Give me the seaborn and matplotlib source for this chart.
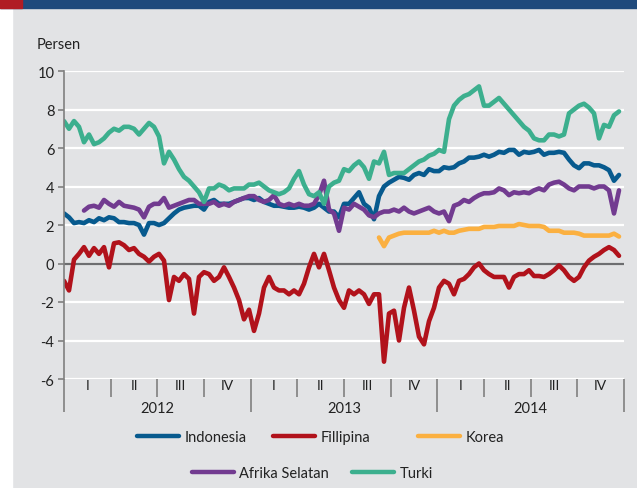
import numpy as np
import pandas as pd
import matplotlib.pyplot as plt
import matplotlib.transforms as mtransforms
from matplotlib.patches import Rectangle
from matplotlib.lines import Line2D
import seaborn as sns

nan = np.nan

# sampling grid, months since Jan 2012 (about every 10 days)
months = np.arange(112) * 36 / 112

indonesia = [2.6, 2.4, 2.1, 2.15, 2.1, 2.25, 2.15, 2.35, 2.25, 2.4,
             2.35, 2.15, 2.15, 2.1, 2.1, 2.0, 1.5, 2.1, 2.1, 2.0,
             2.1, 2.35, 2.6, 2.8, 2.9, 2.95, 3.0, 3.0, 2.8, 3.2,
             3.3, 3.1, 3.1, 3.1, 3.2, 3.3, 3.4, 3.4, 3.3, 3.4,
             3.2, 3.1, 3.0, 3.0, 2.95, 2.9, 2.9, 2.95, 2.9, 2.8,
             2.9, 3.1, 2.9, 2.7, 2.7, 2.4, 3.1, 3.1, 3.4, 3.7,
             3.1, 2.9, 2.3, 3.5, 4.0, 4.2, 4.35, 4.5, 4.45, 4.35,
             4.6, 4.7, 4.6, 4.9, 4.8, 4.8, 5.0, 4.95, 5.0, 5.2,
             5.3, 5.5, 5.5, 5.55, 5.65, 5.55, 5.65, 5.8, 5.75, 5.9,
             5.9, 5.65, 5.8, 5.75, 5.8, 5.9, 5.65, 5.75, 5.75, 5.8,
             5.75, 5.4, 5.1, 4.95, 5.2, 5.2, 5.1, 5.1, 5.0, 4.85,
             4.3, 4.6]

fillipina = [-0.9, -1.4, 0.2, 0.5, 0.85, 0.4, 0.8, 0.5, 0.85, -0.2,
             1.05, 1.1, 0.95, 0.7, 0.8, 0.5, 0.35, 0.1, 0.35, 0.5,
             0.15, -1.9, -0.7, -0.9, -0.55, -0.8, -2.6, -0.7, -0.45, -0.55,
             -0.9, -0.7, -0.2, -0.7, -1.25, -1.9, -2.9, -2.4, -3.5, -2.6,
             -1.25, -0.7, -1.25, -1.4, -1.4, -1.6, -1.4, -1.6, -1.05, -0.2,
             0.5, -0.2, 0.5, -0.35, -1.25, -1.9, -2.3, -1.4, -1.6, -1.4,
             -1.6, -2.1, -1.6, -1.6, -5.1, -2.6, -2.45, -4.0, -2.3, -1.25,
             -2.45, -3.8, -4.2, -3.0, -2.3, -1.25, -0.9, -1.05, -1.6, -0.9,
             -0.8, -0.55, -0.2, 0.0, -0.35, -0.55, -0.7, -0.7, -0.7, -1.25,
             -0.7, -0.55, -0.55, -0.35, -0.65, -0.65, -0.7, -0.55, -0.35, -0.1,
             -0.35, -0.7, -0.9, -0.7, -0.2, 0.15, 0.35, 0.5, 0.7, 0.85,
             0.7, 0.4]

korea = [nan] * 63 + [
             1.35, 0.9, 1.35, 1.45, 1.55, 1.6, 1.6, 1.6, 1.6, 1.6,
             1.6, 1.7, 1.6, 1.7, 1.6, 1.6, 1.7, 1.75, 1.8, 1.8,
             1.8, 1.9, 1.9, 1.9, 1.95, 1.95, 1.95, 1.95, 2.05, 2.0,
             1.95, 1.95, 1.95, 1.9, 1.7, 1.7, 1.7, 1.6, 1.6, 1.6,
             1.55, 1.45, 1.45, 1.45, 1.45, 1.45, 1.45, 1.55, 1.4]

afrika_selatan = [nan] * 4 + [
             2.75, 2.95, 3.0, 2.9, 3.3, 3.1,
             2.95, 3.2, 3.0, 2.95, 2.9, 2.8, 2.4, 2.95, 3.1, 3.1,
             3.4, 2.9, 3.0, 3.1, 3.2, 3.3, 3.3, 3.1, 3.1, 3.1,
             3.2, 3.0, 3.1, 3.0, 3.2, 3.3, 3.4, 3.5, 3.5, 3.3,
             3.2, 3.3, 3.55, 3.1, 3.0, 3.1, 3.0, 3.1, 3.0, 3.0,
             3.1, 3.55, 4.3, 2.8, 2.6, 1.7, 2.9, 2.8, 3.1, 2.95,
             2.8, 2.5, 2.4, 2.6, 2.7, 2.7, 2.8, 2.7, 2.9, 2.7,
             2.6, 2.7, 2.8, 2.9, 2.7, 2.6, 2.7, 2.2, 3.0, 3.1,
             3.3, 3.2, 3.4, 3.55, 3.65, 3.65, 3.7, 3.9, 3.8, 3.55,
             3.7, 3.65, 3.7, 3.65, 3.8, 3.9, 3.8, 4.1, 4.2, 4.25,
             4.1, 3.9, 3.8, 4.0, 4.0, 4.0, 3.9, 4.0, 4.0, 3.8,
             2.6, 3.8]

turki = [7.4, 7.0, 7.4, 7.1, 6.3, 6.7, 6.2, 6.3, 6.5, 6.8,
         7.0, 6.9, 7.1, 7.1, 7.0, 6.7, 7.0, 7.3, 7.1, 6.6,
         5.2, 5.8, 5.4, 4.9, 4.5, 4.3, 4.0, 3.7, 3.2, 3.9,
         3.9, 4.1, 4.0, 3.8, 3.9, 3.9, 3.9, 4.1, 4.1, 4.2,
         4.0, 3.8, 3.7, 3.6, 3.7, 3.9, 4.4, 4.8, 4.1, 3.6,
         3.5, 3.7, 3.1, 4.0, 4.2, 4.3, 4.9, 4.8, 5.1, 5.3,
         5.0, 4.4, 5.3, 5.2, 5.8, 4.6, 4.7, 4.7, 4.7, 4.9,
         5.1, 5.3, 5.4, 5.6, 5.7, 5.9, 5.8, 7.5, 8.2, 8.5,
         8.7, 8.8, 9.0, 9.2, 8.2, 8.2, 8.4, 8.6, 8.3, 8.0,
         7.7, 7.4, 7.1, 6.9, 6.5, 6.4, 6.4, 6.7, 6.7, 6.6,
         6.7, 7.8, 8.0, 8.2, 8.3, 8.1, 7.8, 6.5, 7.2, 7.1,
         7.7, 7.9]

countries = ["Indonesia", "Fillipina", "Korea", "Afrika Selatan", "Turki"]
colors = ["#075a8e", "#b1121b", "#fbb040", "#723b90", "#3caf8e"]
quarters = ["I", "II", "III", "IV"]
years = ["2012", "2013", "2014"]

frames = []
for name, vals in zip(countries, [indonesia, fillipina, korea, afrika_selatan, turki]):
    frames.append(pd.DataFrame({"bulan": months, "persen": vals, "negara": name}))
df = pd.concat(frames, ignore_index=True).dropna()

bg = "#e2e3e5"
sns.set_style("white", {"axes.facecolor": bg, "figure.facecolor": bg})
plt.rcParams["font.family"] = ["Lato", "DejaVu Sans"]
plt.rcParams["axes.unicode_minus"] = False

W, H = 637, 489
fig = plt.figure(figsize=(W / 100, H / 100), dpi=100)
fig.set_facecolor(bg)

# frame decoration: white strip, blue bar, red corner
fig.patches.append(Rectangle((0, 0), 12 / W, 1, transform=fig.transFigure, color="white", zorder=0))
fig.patches.append(Rectangle((0, 1 - 9 / H), 1, 9 / H, transform=fig.transFigure, color="#1f4a7c", zorder=1))
fig.patches.append(Rectangle((0, 1 - 9 / H), 22 / W, 9 / H, transform=fig.transFigure, color="#b01c24", zorder=2))

ax = fig.add_axes([64 / W, 1 - 380 / H, 560 / W, 308 / H])
ax.set_facecolor(bg)

ax.set_yticks(range(-6, 11, 2))
ax.yaxis.grid(True, color="white", linewidth=1.6)
ax.set_axisbelow(True)
ax.axhline(0, color="#6d6e70", linewidth=1.6, zorder=1.5)

sns.lineplot(data=df, x="bulan", y="persen", hue="negara", hue_order=countries,
             palette=colors, linewidth=3.3, legend=False, estimator=None, ax=ax)

ax.set_xlim(0, 36)
ax.set_ylim(-6, 10)
ax.set_xlabel("")
ax.set_ylabel("")

for s in ["top", "right", "bottom"]:
    ax.spines[s].set_visible(False)
ax.spines["left"].set_color("#808080")
ax.spines["left"].set_linewidth(1.2)

ax.set_xticks([0, 12, 24, 36])
ax.set_xticks(range(0, 37, 3), minor=True)
ax.set_xticklabels([])
ax.tick_params(axis="x", which="major", bottom=True, length=24, width=1.2, color="#808080")
ax.tick_params(axis="x", which="minor", bottom=True, length=13, width=1.2, color="#808080")
ax.tick_params(axis="y", left=True, length=4, width=1.2, color="#808080",
               labelsize=10.5, labelcolor="#222222", pad=3)

trans = mtransforms.blended_transform_factory(ax.transData, ax.transAxes)
for i in range(12):
    ax.text(i * 3 + 1.5, -0.02, quarters[i % 4], transform=trans, ha="center", va="center",
            fontsize=10, color="#222222")
for i, yr in enumerate(years):
    ax.text(i * 12 + 6, -0.094, yr, transform=trans, ha="center", va="center",
            fontsize=10.5, color="#222222")

fig.text(37 / W, 1 - 45 / H, "Persen", ha="left", va="center", fontsize=10.5, color="#222222")

# legend, two rows
legend_pos = [(137, 438), (273, 438), (418, 438), (192, 474), (352, 474)]
for name, col, (lx, ly) in zip(countries, colors, legend_pos):
    h = Line2D([], [], color=col, linewidth=3.2)
    fig.legend([h], [name], loc="center left", bbox_to_anchor=(lx / W, 1 - ly / H),
               frameon=False, borderpad=0, borderaxespad=0, handlelength=2.9,
               handletextpad=0.35, fontsize=10.5, labelcolor="#222222")

fig.savefig("out.png", dpi=100, facecolor=fig.get_facecolor())
